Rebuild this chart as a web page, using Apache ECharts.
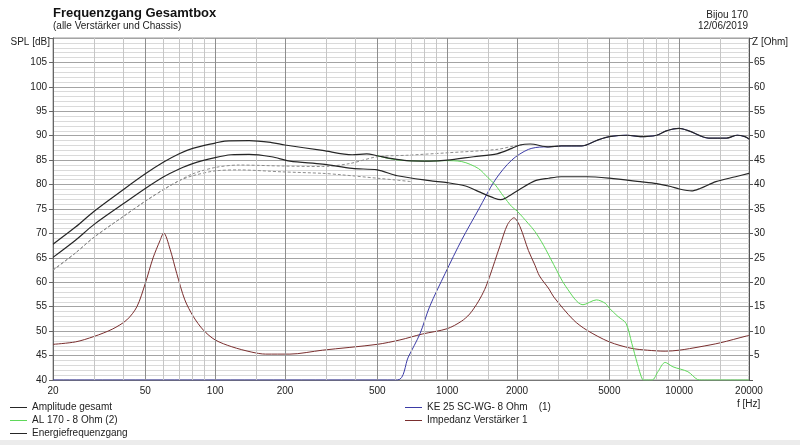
<!DOCTYPE html>
<html>
<head>
<meta charset="utf-8">
<title>Frequenzgang Gesamtbox</title>
<script src="https://cdn.jsdelivr.net/npm/echarts@6/dist/echarts.min.js"></script>
<style>
html, body { margin: 0; padding: 0; background: #fff; }
#chart { width: 800px; height: 445px; }
</style>
</head>
<body>
<div id="chart"></div>
<script type="text/javascript">
// Achsen
var xTickLabels = [20, 50, 100, 200, 500, 1000, 2000, 5000, 10000, 20000];
var xMajorGrid = [50, 100, 200, 500, 1000, 2000, 5000, 10000];
var xMinorGrid = [30, 40, 60, 70, 80, 90, 150, 300, 400, 600, 700, 800, 900, 1500, 3000, 4000, 6000, 7000, 8000, 9000, 15000];

// Amplitude gesamt
var ampFreq = [20, 25, 30, 40, 50, 60, 70, 80, 100, 110, 140, 175, 200, 290, 390, 450, 500, 580, 670, 840, 1000, 1300, 1640, 1900, 2060, 2280, 2740, 3100, 3800, 4450, 5000, 6000, 6800, 8000, 8800, 10000, 11000, 13400, 16000, 17800, 19200, 20000];
var ampDb   = [67.8, 71.3, 74.5, 78.9, 82.2, 84.6, 86.3, 87.4, 88.5, 88.9, 89.0, 88.6, 88.1, 87.0, 86.1, 86.3, 85.9, 85.3, 84.9, 84.8, 85.0, 85.7, 86.3, 87.4, 88.1, 88.3, 87.7, 87.9, 87.9, 89.1, 89.8, 90.1, 89.8, 90.1, 91.0, 91.5, 91.0, 89.5, 89.5, 90.1, 89.8, 89.3];

// Energiefrequenzgang
var energyFreq = [20, 25, 30, 40, 50, 60, 70, 80, 100, 117, 140, 175, 210, 290, 390, 500, 610, 840, 1000, 1200, 1360, 1600, 1700, 1780, 2050, 2400, 2740, 3100, 4000, 5000, 6800, 8000, 9200, 10000, 11300, 12300, 14400, 17500, 20000];
var energyDb   = [65.1, 68.6, 71.8, 76.0, 79.2, 81.6, 83.2, 84.3, 85.5, 86.1, 86.2, 85.7, 84.8, 84.2, 83.3, 83.0, 81.8, 80.8, 80.4, 79.7, 78.6, 77.2, 76.9, 77.2, 79.0, 80.8, 81.3, 81.6, 81.6, 81.3, 80.6, 80.2, 79.6, 79.1, 78.7, 79.2, 80.6, 81.6, 82.3];

// AL 170 - 8 Ohm (2)
var alFreq = [500, 580, 670, 840, 980, 1156, 1362, 1500, 1608, 1750, 1897, 2000, 2240, 2390, 2600, 2880, 3250, 3850, 4400, 4800, 5000, 5450, 5900, 6250, 6600, 6950, 7100, 7650, 8100, 8700, 9400, 10900, 12000, 12500, 20000];
var alDb   = [85.9, 85.2, 84.9, 84.8, 84.9, 84.7, 83.3, 81.4, 80.0, 77.6, 75.5, 74.6, 72.0, 70.4, 67.6, 63.6, 59.1, 55.4, 56.4, 55.7, 54.7, 53.0, 51.6, 47.5, 43.4, 40.1, 40.0, 40.0, 41.7, 43.6, 42.7, 41.7, 40.1, 40.0, 40.0];

// KE 25 SC-WG- 8 Ohm (1)
var keFreq = [20, 610, 680, 764, 840, 980, 1156, 1362, 1608, 1897, 2240, 2600, 2740, 3100, 3800, 4450, 5000, 6000, 6800, 8000, 8800, 10000, 11000, 13400, 16000, 17800, 19200, 20000];
var keDb   = [40.0, 40.0, 44.7, 49.5, 55.0, 61.8, 68.7, 74.8, 80.9, 85.0, 87.2, 87.7, 87.7, 87.9, 87.9, 89.1, 89.8, 90.1, 89.8, 90.1, 91.0, 91.5, 91.0, 89.5, 89.5, 90.1, 89.8, 89.3];

// Impedanz Verstärker 1 (Ohm, rechte Achse)
var impFreq = [20, 25, 30, 36, 41.6, 46, 50, 54, 57.8, 60, 63.9, 68.3, 74, 80.5, 89, 100, 118, 144, 165, 210, 290, 500, 626, 780, 1000, 1150, 1250, 1360, 1450, 1520, 1690, 1820, 1940, 2060, 2240, 2390, 2500, 2750, 2880, 3500, 4000, 5000, 6200, 7300, 8700, 10000, 12300, 15000, 19500, 20000];
var impOhm  = [7.3, 7.8, 8.9, 10.4, 12.3, 15.0, 19.8, 25.0, 28.5, 30.1, 26.8, 21.8, 16.4, 13.0, 10.2, 8.2, 6.8, 5.7, 5.3, 5.3, 6.1, 7.3, 8.2, 9.4, 10.5, 12.0, 13.5, 16.0, 18.5, 21.0, 27.5, 31.8, 33.2, 31.4, 26.5, 23.5, 21.3, 18.6, 17.0, 12.3, 10.2, 7.8, 6.5, 6.1, 5.9, 6.1, 6.8, 7.6, 9.0, 9.1];

// gestrichelte Vergleichskurven
var refAFreq = [20, 25, 30, 40, 50, 60, 70, 80, 100, 127, 195, 290, 380, 500, 670, 1000, 1640, 1940, 2100];
var refADb   = [62.5, 66.0, 69.2, 73.4, 76.6, 79.0, 80.8, 82.2, 83.5, 84.0, 83.8, 83.7, 84.3, 85.7, 86.0, 86.5, 87.2, 87.9, 88.1];
var refBFreq = [20, 25, 30, 40, 50, 60, 70, 80, 100, 127, 195, 290, 350, 500, 610, 700];
var refBDb   = [62.5, 66.0, 69.2, 73.4, 76.6, 79.0, 80.8, 81.8, 82.8, 83.0, 82.6, 82.3, 82.0, 81.3, 80.9, 80.6];

var FONT = "'Liberation Sans', Arial, sans-serif";

function pairs(fs, vs) {
    return fs.map(function (f, i) { return [f, vs[i]]; });
}

var gridLines = xMinorGrid.map(function (f) {
    return { xAxis: f, lineStyle: { color: '#c6c6c6' } };
}).concat(xMajorGrid.map(function (f) {
    return { xAxis: f, lineStyle: { color: '#8e8e8e' } };
}));

var legendText = { fontSize: 10, color: '#222', lineHeight: 13, fontFamily: FONT };

var chart = echarts.init(document.getElementById('chart'));
var option = {
    animation: false,
    backgroundColor: '#fff',
    textStyle: { fontFamily: FONT },
    grid: {
        left: 53, right: 51, top: 38, bottom: 65,
        show: true, borderColor: '#9a9a9a', borderWidth: 1, backgroundColor: '#fff'
    },
    legend: [{
        orient: 'vertical', left: 10, top: 401, padding: 0, itemGap: 0,
        icon: 'rect', itemWidth: 17, itemHeight: 1,
        textStyle: legendText,
        data: ['Amplitude gesamt', 'AL 170 - 8 Ohm (2)', 'Energiefrequenzgang']
    }, {
        orient: 'vertical', left: 405, top: 401, padding: 0, itemGap: 0,
        icon: 'rect', itemWidth: 17, itemHeight: 1,
        textStyle: legendText,
        data: ['KE 25 SC-WG- 8 Ohm    (1)', 'Impedanz Verstärker 1']
    }],
    xAxis: {
        type: 'log', logBase: 10, min: 20, max: 20000,
        axisLine: { show: true, lineStyle: { color: '#777' } },
        axisTick: { show: false },
        splitLine: { show: false },
        axisLabel: {
            customValues: xTickLabels,
            color: '#222', fontSize: 10, fontFamily: FONT, margin: 6,
            formatter: function (v) { return String(Math.round(v)); }
        }
    },
    yAxis: [{
        type: 'value', position: 'left', min: 40, max: 110, interval: 5,
        axisLine: { show: true, lineStyle: { color: '#666' } },
        axisTick: { show: true, length: 4, lineStyle: { color: '#666' } },
        axisLabel: {
            color: '#222', fontSize: 10, fontFamily: FONT, margin: 6,
            formatter: function (v) { return v === 110 ? '' : String(v); }
        },
        splitLine: { show: true, lineStyle: { color: '#a4a4a4' } },
        minorTick: { show: true, splitNumber: 5, length: 0 },
        minorSplitLine: { show: true, lineStyle: { color: '#dadada' } }
    }, {
        type: 'value', position: 'right', min: 0, max: 70, interval: 5,
        axisLine: { show: true, lineStyle: { color: '#555' } },
        axisTick: { show: true, length: 4, lineStyle: { color: '#555' } },
        axisLabel: {
            color: '#222', fontSize: 10, fontFamily: FONT, margin: 5,
            formatter: function (v) { return (v === 0 || v === 70) ? '' : String(v); }
        },
        splitLine: { show: false }
    }],
    graphic: [
        { type: 'text', left: 53, top: 7, style: { text: 'Frequenzgang Gesamtbox', font: "bold 13px " + FONT, fill: '#111' } },
        { type: 'text', left: 53, top: 21, style: { text: '(alle Verstärker und Chassis)', font: "10px " + FONT, fill: '#222' } },
        { type: 'text', right: 52, top: 10, style: { text: 'Bijou 170', font: "10px " + FONT, fill: '#222', align: 'right' } },
        { type: 'text', right: 52, top: 21, style: { text: '12/06/2019', font: "10px " + FONT, fill: '#222', align: 'right' } },
        { type: 'text', right: 750, top: 37, style: { text: 'SPL [dB]', font: "10px " + FONT, fill: '#222' } },
        { type: 'text', left: 752, top: 37, style: { text: 'Z [Ohm]', font: "10px " + FONT, fill: '#222' } },
        { type: 'text', left: 737, top: 399, style: { text: 'f [Hz]', font: "10px " + FONT, fill: '#222' } },
        { type: 'rect', left: 0, top: 440, shape: { width: 800, height: 5 }, style: { fill: '#ececec' } }
    ],
    series: [
        {
            name: 'grid', type: 'line', data: [], z: 1, silent: true,
            markLine: {
                silent: true, symbol: ['none', 'none'], animation: false,
                label: { show: false },
                lineStyle: { type: 'solid', width: 1 },
                data: gridLines
            }
        },
        {
            name: 'Vergleich A', type: 'line', data: pairs(refAFreq, refADb), showSymbol: false, smooth: 0.3,
            lineStyle: { color: '#8c8c8c', width: 1, type: [3, 2] }, itemStyle: { color: '#8c8c8c' }, z: 3
        },
        {
            name: 'Vergleich B', type: 'line', data: pairs(refBFreq, refBDb), showSymbol: false, smooth: 0.3,
            lineStyle: { color: '#8c8c8c', width: 1, type: [3, 2] }, itemStyle: { color: '#8c8c8c' }, z: 3
        },
        {
            name: 'Impedanz Verstärker 1', type: 'line', yAxisIndex: 1, data: pairs(impFreq, impOhm), showSymbol: false, smooth: 0.3,
            lineStyle: { color: '#7a2e2e', width: 1 }, itemStyle: { color: '#7a2e2e' }, z: 4
        },
        {
            name: 'KE 25 SC-WG- 8 Ohm    (1)', type: 'line', data: pairs(keFreq, keDb), showSymbol: false, smooth: 0.3,
            lineStyle: { color: '#3b3ba6', width: 1 }, itemStyle: { color: '#3b3ba6' }, z: 4
        },
        {
            name: 'AL 170 - 8 Ohm (2)', type: 'line', data: pairs(alFreq, alDb), showSymbol: false, smooth: 0.3,
            lineStyle: { color: '#5fd85a', width: 1 }, itemStyle: { color: '#5fd85a' }, z: 5
        },
        {
            name: 'Energiefrequenzgang', type: 'line', data: pairs(energyFreq, energyDb), showSymbol: false, smooth: 0.3,
            lineStyle: { color: '#262626', width: 1.2 }, itemStyle: { color: '#262626' }, z: 6
        },
        {
            name: 'Amplitude gesamt', type: 'line', data: pairs(ampFreq, ampDb), showSymbol: false, smooth: 0.3,
            lineStyle: { color: '#262626', width: 1.2 }, itemStyle: { color: '#262626' }, z: 6
        }
    ]
};
chart.setOption(option);
</script>
</body>
</html>
